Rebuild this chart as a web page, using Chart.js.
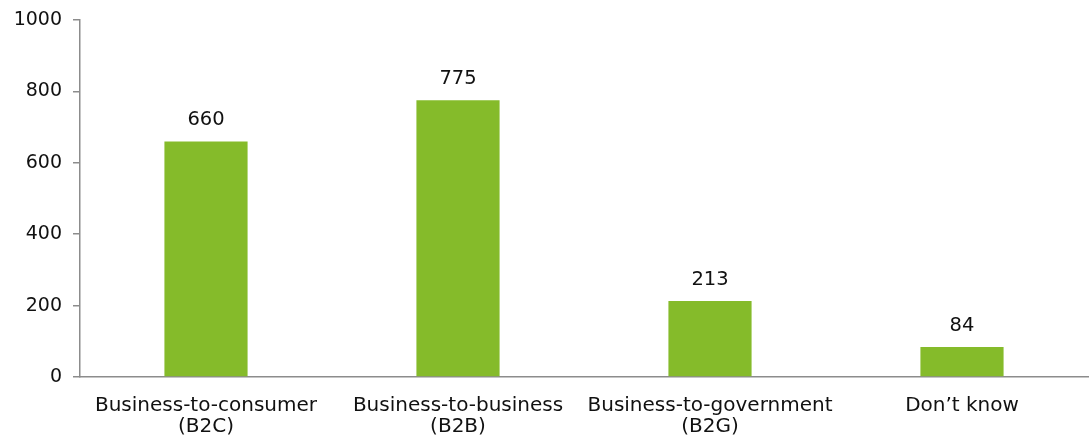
<!DOCTYPE html>
<html>
<head>
<meta charset="utf-8">
<script src="https://cdn.jsdelivr.net/npm/chart.js@4"></script>
<style>
html,body{margin:0;padding:0;background:#fff;}
#wrap{width:1092px;height:441px;position:relative;}
</style>
</head>
<body>
<div id="wrap"><canvas id="c" width="1092" height="441"></canvas></div>
<script>
const categories = [["Business-to-consumer","(B2C)"],["Business-to-business","(B2B)"],["Business-to-government","(B2G)"],["Don\u2019t know"]];
const values = [660, 775, 213, 84];
const yTicks = [0, 200, 400, 600, 800, 1000];

const FONT = "'DejaVu Sans', Verdana, sans-serif";
const AXIS = '#8c8c8c';

const labelPlugin = {
  id: 'barLabels',
  afterDatasetsDraw(chart) {
    const ctx = chart.ctx;
    const meta = chart.getDatasetMeta(0);
    ctx.save();
    ctx.font = '19.5px ' + FONT;
    ctx.fillStyle = '#111';
    ctx.textAlign = 'center';
    ctx.textBaseline = 'alphabetic';
    meta.data.forEach((bar, i) => {
      ctx.fillText(String(values[i]), bar.x, bar.y - 16);
    });
    ctx.restore();
  }
};

new Chart(document.getElementById('c'), {
  type: 'bar',
  data: {
    labels: categories,
    datasets: [{
      data: values,
      backgroundColor: '#85bb2a',
      categoryPercentage: 1,
      barPercentage: 0.33
    }]
  },
  options: {
    responsive: false,
    animation: false,
    devicePixelRatio: 1,
    layout: { padding: { top: 20, right: 4, left: 0, bottom: 0 } },
    plugins: { legend: { display: false }, tooltip: { enabled: false } },
    scales: {
      x: {
        grid: { display: false },
        border: { display: true, color: AXIS, width: 1.5 },
        ticks: { font: { family: FONT, size: 20, lineHeight: 1.02 }, color: '#111', padding: 11, maxRotation: 0, autoSkip: false },
        afterFit(s) { s.height = 64; }
      },
      y: {
        min: 0, max: 1000,
        afterBuildTicks(s) { s.ticks = yTicks.map(v => ({ value: v })); },
        grid: { drawOnChartArea: false, drawTicks: true, tickLength: 7, tickColor: AXIS, lineWidth: 1.5 },
        border: { display: true, color: AXIS, width: 1.5 },
        ticks: { font: { family: FONT, size: 19, lineHeight: 0.9 }, color: '#111', padding: 11, callback: v => String(v) },
        afterFit(s) { s.width = 80; }
      }
    }
  },
  plugins: [labelPlugin]
});
</script>
</body>
</html>
